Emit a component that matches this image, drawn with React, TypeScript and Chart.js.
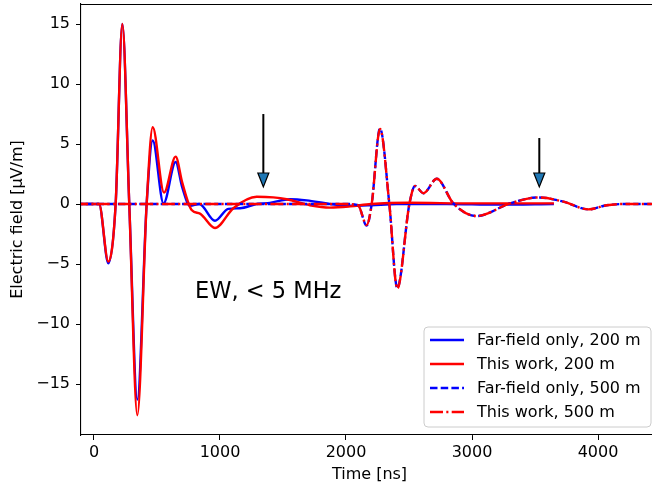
import React, { useEffect, useRef } from "react";
import { Chart, registerables } from "chart.js";

Chart.register(...registerables);

// ---- Data ----
const ffTime200 = [-150, 40, 114, 172, 225, 280, 344, 418, 466, 552, 648, 700, 762, 836, 960, 1066, 1159, 1291, 1397, 1556, 1688, 1873, 2032, 2200, 2400, 2800, 3200, 3650];
const ffField200 = [0, 0, -4.95, 0, 15.0, 0, -16.3, 0, 5.3, 0.05, 3.5, 1.4, -0.15, 0.0, -1.4, -0.4, -0.35, 0.0, 0.1, 0.4, 0.3, 0.0, -0.15, -0.1, 0.0, 0.0, -0.05, 0.0];

const twTime200 = [-150, 40, 114, 172, 225, 280, 344, 418, 466, 556, 648, 700, 775, 841, 960, 1106, 1291, 1423, 1529, 1714, 1873, 2032, 2200, 2500, 3000, 3650];
const twField200 = [0, 0, -4.8, 0, 15.0, 0, -17.6, 0, 6.4, 0.95, 3.95, 1.8, -0.5, -0.8, -2.0, -0.35, 0.6, 0.55, 0.4, -0.1, -0.3, -0.2, 0.0, 0.1, 0.05, 0.05];

const ffTime500 = [-150, 2000, 2095, 2164, 2204, 2270, 2344, 2407, 2503, 2548, 2614, 2720, 2852, 3037, 3302, 3527, 3725, 3923, 4069, 4200, 4500];
const ffField500 = [0, 0, -0.1, -1.8, 0, 6.3, 0, -7.0, 0, 1.5, 0.9, 2.1, 0.05, -1.0, 0.05, 0.55, 0.2, -0.45, -0.1, 0, 0];

const twTime500 = [-150, 2000, 2095, 2164, 2204, 2270, 2344, 2407, 2503, 2548, 2614, 2720, 2852, 3037, 3302, 3527, 3725, 3923, 4069, 4200, 4500];
const twField500 = [0, 0, -0.1, -1.75, 0, 6.25, 0, -7.05, 0, 1.5, 0.9, 2.1, 0.05, -1.0, 0.05, 0.55, 0.2, -0.45, -0.1, 0, 0];

const xTickValues = [0, 1000, 2000, 3000, 4000];
const yTickValues = [-15, -10, -5, 0, 5, 10, 15];

const seriesLabels = ["Far-field only, 200 m", "This work, 200 m", "Far-field only, 500 m", "This work, 500 m"];

const arrowTimes = [1344, 3534];
const arrowTops = [7.5, 5.5];
const arrowTipValue = 1.42;

const annotationText = "EW, < 5 MHz";
const annotationTime = 802;
const annotationValue = -7.33;

const FONT = "'DejaVu Sans', 'Liberation Sans', sans-serif";
const BLUE = "#0000ff";
const RED = "#ff0000";
const DASH_BLUE = [7.5, 3.2];
const DASH_RED = [13, 3.3, 2.1, 3.3];

const toPoints = (t: number[], v: number[]) => t.map((x, i) => ({ x, y: v[i] }));

const overlayPlugin = {
  id: "overlay",
  afterDraw(chart: any) {
    const { ctx, chartArea, scales } = chart;
    const xs = scales.x;
    const ys = scales.y;
    ctx.save();

    // top (and right) spine
    ctx.strokeStyle = "#000";
    ctx.lineWidth = 1.1;
    ctx.setLineDash([]);
    ctx.beginPath();
    ctx.moveTo(chartArea.left, chartArea.top + 0.5);
    ctx.lineTo(chartArea.right, chartArea.top + 0.5);
    ctx.lineTo(chartArea.right, chartArea.bottom);
    ctx.stroke();

    // arrows
    arrowTimes.forEach((t, i) => {
      const px = xs.getPixelForValue(t);
      const pTop = ys.getPixelForValue(arrowTops[i]);
      const pTip = ys.getPixelForValue(arrowTipValue);
      const headLen = 14;
      const half = 5.5;
      ctx.strokeStyle = "#000";
      ctx.lineWidth = 2;
      ctx.beginPath();
      ctx.moveTo(px, pTop);
      ctx.lineTo(px, pTip - headLen);
      ctx.stroke();
      ctx.beginPath();
      ctx.moveTo(px - half, pTip - headLen);
      ctx.lineTo(px + half, pTip - headLen);
      ctx.lineTo(px, pTip);
      ctx.closePath();
      ctx.fillStyle = "#1f77b4";
      ctx.fill();
      ctx.lineWidth = 1.2;
      ctx.stroke();
    });

    // annotation text
    ctx.fillStyle = "#000";
    ctx.font = `22.5px ${FONT}`;
    ctx.textAlign = "left";
    ctx.textBaseline = "middle";
    ctx.fillText(annotationText, xs.getPixelForValue(annotationTime), ys.getPixelForValue(annotationValue));

    // legend (matplotlib style, lower right)
    const lw = 227;
    const lh = 100;
    const lx = chartArea.right - 7 - lw;
    const ly = chartArea.bottom - 8 - lh;
    const r = 4;
    ctx.beginPath();
    ctx.moveTo(lx + r, ly);
    ctx.lineTo(lx + lw - r, ly);
    ctx.quadraticCurveTo(lx + lw, ly, lx + lw, ly + r);
    ctx.lineTo(lx + lw, ly + lh - r);
    ctx.quadraticCurveTo(lx + lw, ly + lh, lx + lw - r, ly + lh);
    ctx.lineTo(lx + r, ly + lh);
    ctx.quadraticCurveTo(lx, ly + lh, lx, ly + lh - r);
    ctx.lineTo(lx, ly + r);
    ctx.quadraticCurveTo(lx, ly, lx + r, ly);
    ctx.closePath();
    ctx.fillStyle = "rgba(255,255,255,0.8)";
    ctx.fill();
    ctx.strokeStyle = "#cccccc";
    ctx.lineWidth = 1;
    ctx.stroke();

    const colors = [BLUE, RED, BLUE, RED];
    const dashes = [[], [], DASH_BLUE, DASH_RED];
    seriesLabels.forEach((label, i) => {
      const cy = ly + 13 + i * 24;
      ctx.strokeStyle = colors[i];
      ctx.lineWidth = 2.4;
      ctx.setLineDash(dashes[i]);
      ctx.beginPath();
      ctx.moveTo(lx + 6, cy);
      ctx.lineTo(lx + 40, cy);
      ctx.stroke();
      ctx.setLineDash([]);
      ctx.fillStyle = "#000";
      ctx.font = `16px ${FONT}`;
      ctx.textAlign = "left";
      ctx.textBaseline = "middle";
      ctx.fillText(label, lx + 53, cy + 1);
    });

    ctx.restore();
  },
};

export default function App() {
  const canvasRef = useRef<HTMLCanvasElement | null>(null);

  useEffect(() => {
    if (!canvasRef.current) return;
    const lineCommon = {
      pointRadius: 0,
      borderWidth: 2.4,
      cubicInterpolationMode: "monotone" as const,
      fill: false,
    };
    const zeroPad = (s: any) => {
      s.paddingTop = 0;
      s.paddingBottom = 0;
      s.paddingLeft = 0;
      s.paddingRight = 0;
    };
    const chart = new Chart(canvasRef.current, {
      type: "line",
      data: {
        datasets: [
          { ...lineCommon, label: seriesLabels[0], data: toPoints(ffTime200, ffField200), borderColor: BLUE, order: 3 },
          { ...lineCommon, label: seriesLabels[1], data: toPoints(twTime200, twField200), borderColor: RED, order: 2 },
          { ...lineCommon, label: seriesLabels[2], data: toPoints(ffTime500, ffField500), borderColor: BLUE, borderDash: DASH_BLUE, order: 1 },
          { ...lineCommon, label: seriesLabels[3], data: toPoints(twTime500, twField500), borderColor: RED, borderDash: DASH_RED, order: 0 },
        ],
      },
      options: {
        animation: false,
        responsive: false,
        devicePixelRatio: 1,
        layout: { padding: { top: 4, right: 4, left: 0, bottom: 0 } },
        plugins: { legend: { display: false }, tooltip: { enabled: false } },
        scales: {
          x: {
            type: "linear",
            min: -103,
            max: 4476,
            afterFit: (s: any) => { s.height = 50; zeroPad(s); },
            afterBuildTicks: (s: any) => { s.ticks = xTickValues.map((v) => ({ value: v })); },
            grid: { display: true, drawOnChartArea: false, drawTicks: true, tickLength: 5, tickColor: "#000", tickWidth: 1 },
            border: { display: true, color: "#000", width: 1.1 },
            ticks: { color: "#000", font: { family: FONT, size: 16 }, padding: 3, maxRotation: 0, autoSkip: false,
              callback: (v: any) => String(v) },
            title: { display: true, text: "Time [ns]", color: "#000", font: { family: FONT, size: 16 }, padding: { top: 0, bottom: 1 } },
          },
          y: {
            type: "linear",
            min: -19.25,
            max: 16.67,
            afterFit: (s: any) => { s.width = 81; zeroPad(s); },
            afterBuildTicks: (s: any) => { s.ticks = yTickValues.map((v) => ({ value: v })); },
            grid: { display: true, drawOnChartArea: false, drawTicks: true, tickLength: 5, tickColor: "#000", tickWidth: 1 },
            border: { display: true, color: "#000", width: 1.1 },
            ticks: { color: "#000", font: { family: FONT, size: 16 }, padding: 6, autoSkip: false,
              callback: (v: any) => (v < 0 ? "\u2212" + Math.abs(v) : String(v)) },
            title: { display: true, text: "Electric field [\u03bcV/m]", color: "#000", font: { family: FONT, size: 16 }, padding: { top: 8, bottom: 0 } },
          },
        },
      },
      plugins: [overlayPlugin],
    });
    return () => chart.destroy();
  }, []);

  return (
    <div style={{ position: "absolute", left: 0, top: 0, width: 652, height: 485, overflow: "hidden", background: "#fff" }}>
      <canvas ref={canvasRef} width={662} height={485} style={{ display: "block", width: 662, height: 485 }} />
    </div>
  );
}
